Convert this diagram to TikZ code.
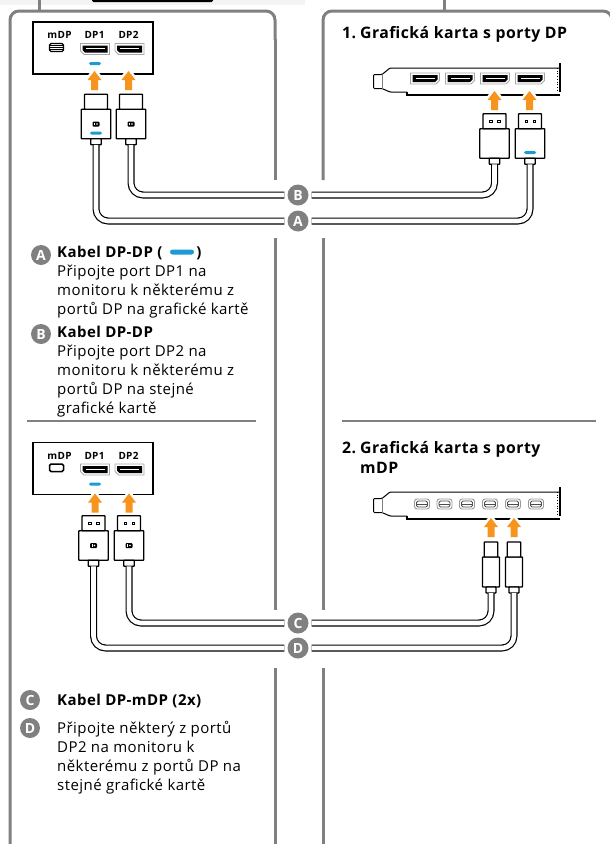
\documentclass[tikz,border=0pt]{standalone}
\usepackage{fontspec}
\setmainfont[LetterSpace=3]{Open Sans}
\usetikzlibrary{positioning}

\colorlet{panelGray}{black!50}
\definecolor{arrowOrange}{HTML}{F7941D}
\definecolor{dashBlue}{HTML}{1C9AD6}
\definecolor{stripGray}{HTML}{F4F4F4}

\tikzset{
  panel/.style={panelGray, line width=3pt, rounded corners=9pt},
  rulerline/.style={panelGray, line width=2pt},
  cable/.style={line width=1.2pt, double=white, double distance=4.6pt, rounded corners=12pt, shorten >=3pt},
  badge/.style={circle, fill=panelGray, text=white, font=\fontsize{14}{14}\selectfont\bfseries, minimum size=#1, inner sep=0pt},
  badge/.default=21pt,
  portname/.style={font=\fontsize{10}{12}\selectfont\bfseries},
  legend/.style={anchor=north west, inner sep=0pt, align=left, font=\fontsize{15}{19}\selectfont},
  heading/.style={anchor=north west, inner sep=0pt, align=left, font=\fontsize{15.8}{20}\selectfont\bfseries},
  bluedash/.style={fill=dashBlue, rounded corners=1.5pt, minimum width=12pt, minimum height=3pt, inner sep=0pt},
  uparrow/.style={fill=arrowOrange, preaction={draw=white, line width=5pt}},
  plugpart/.style={draw, line width=1.3pt, fill=white, rounded corners=0.6pt, inner sep=0pt, outer sep=0pt},
  pin/.style={draw, line width=0.5pt, minimum size=2.5pt, inner sep=0pt},
}

% arrow: x and y of the tip
\newcommand{\orangearrow}[2]{
  \path[uparrow] (#1,#2) -- ++(7,9) -- ++(-3.5,0) -- ++(0,10) -- ++(-7,0) -- ++(0,-10) -- ++(-3.5,0) -- cycle;
}
% plugs: name, centre x, centre y of the body
\newcommand{\dpplug}[3]{
  \node[plugpart, minimum width=29.5pt, minimum height=29.5pt] (#1) at (#2,#3) {};
  \node[plugpart, minimum width=23pt, minimum height=15pt, above=0pt of #1] (#1h) {};
  \node[plugpart, minimum width=10.5pt, minimum height=6pt, below=0pt of #1] (#1n) {};
}
\newcommand{\mdpplug}[3]{
  \node[plugpart, minimum width=17pt, minimum height=30pt] (#1) at (#2,#3) {};
  \node[plugpart, minimum width=13.5pt, minimum height=15pt, above=0pt of #1] (#1h) {};
  \node[plugpart, minimum width=10pt, minimum height=6pt, below=0pt of #1] (#1n) {};
}
\newcommand{\pins}[1]{
  \node[pin, xshift=-4pt] at (#1h) {};
  \node[pin, xshift=4pt] at (#1h) {};
}
\newcommand{\dplogo}[1]{
  \fill[rounded corners=1pt] ([shift={(-3.5pt,-2.5pt)}]#1) rectangle ++(7pt,5pt);
  \fill[white] ([shift={(-1.6pt,-1.2pt)}]#1) rectangle ++(1pt,2.4pt);
  \fill[white] ([shift={(1pt,0pt)}]#1) circle (0.9pt);
}
% DP socket: centre x, centre y, side of the cut corner
\newcommand{\dpport}[3]{
  \begin{scope}[shift={(#1,#2)}, xscale=#3]
    \draw[gray!70, line width=0.8pt, fill=white] (-14.5,-5.5) -- (14.5,-5.5) -- (14.5,5.5) -- (-11,5.5) -- (-14.5,2) -- cycle;
    \fill (-12.5,-3.5) -- (12.5,-3.5) -- (12.5,3.5) -- (-10,3.5) -- (-12.5,1) -- cycle;
    \fill[white] (-9.5,-1) rectangle (9.5,0);
  \end{scope}
}
\newcommand{\mdpport}[2]{
  \draw[gray!80, line width=0.9pt, fill=white, rounded corners=2.5pt] (#1-7.5,#2-5) rectangle (#1+7.5,#2+5);
  \draw[gray!60!black, line width=0.9pt, rounded corners=1.5pt] (#1-5.5,#2-3) rectangle (#1+5.5,#2+3);
  \draw[gray!60!black, line width=0.6pt] (#1-5.5,#2) -- (#1+5.5,#2);
}
% slot plate of a graphics card
\newcommand{\cardplate}[1]{
  \begin{scope}[shift={(0,#1)}]
    \draw[line width=1pt, rounded corners=1pt] (407,92) -- (390,92) -- (382,88.5) -- (373.5,88.5) -- (373.5,74.5) -- (382,74.5) -- (390,68) -- (560,68);
    \draw[gray, line width=0.8pt] (382,74.5) -- (382,88.5);
    \draw[line width=1.6pt] (407,92) -- (407,95) -- (560,95);
    \draw[line width=1.6pt] (560,63) -- (560,92);
    \draw[line width=0.7pt, dotted] (557,68) -- (557,92);
  \end{scope}
}

\begin{document}
\begin{tikzpicture}[x=1pt, y=-1pt]

  \clip (0,0) rectangle (610,844);

  % what is left of the part above
  \fill[stripGray] (0,0) rectangle (305,5);
  \fill[rounded corners=1.5pt] (92,-5) rectangle (213,2);

  % panels, open where the cables cross
  \draw[panelGray, line width=3pt] (39,0) -- (39,11);
  \draw[panelGray, line width=3pt] (444,0) -- (444,11);
  \draw[panel] (10,844) -- (10,11) -- (275,11) -- (275,40);
  \draw[panelGray, line width=3pt] (275,39) -- (275,180);
  \draw[panelGray, line width=3pt] (275,238) -- (275,610);
  \draw[panelGray, line width=3pt] (275,668) -- (275,844);
  \draw[panel] (323,180) -- (323,11) -- (612,11) -- (612,40);
  \draw[panelGray, line width=3pt] (323,238) -- (323,610);
  \draw[panelGray, line width=3pt] (323,668) -- (323,844);
  \draw[rulerline] (27,421) -- (256,421);
  \draw[rulerline] (342,421) -- (596,421);

  % monitors
  \foreach \y in {22,442.5}{
    \draw[line width=1.1pt] (33,\y) rectangle (153,\y+52);
    \node[portname] (mdp\y) at (59.5,\y+13) {mDP};
    \node[portname] (dpa\y) at (94.5,\y+13) {DP1};
    \node[portname] (dpb\y) at (128.5,\y+13) {DP2};
    \dpport{95}{\y+27}{1}
    \dpport{129.5}{\y+27}{1}
    \node[bluedash] (dash\y) at (95,\y+41.5) {};
  }
  \draw[line width=1.3pt, fill=white, rounded corners=1.5pt] (49.5,43.5) rectangle (63.5,51.5);
  \foreach \y in {45.5,47.5,49.5}
  \draw[line width=0.7pt] (49.5,\y) -- (63.5,\y);
  \draw[line width=1.5pt, fill=white, rounded corners=1.5pt] (49.5,464) rectangle (63.5,471.5);

  % cards
  \cardplate{0}
  \cardplate{424}
  \foreach \x in {425,460,495,530}{
    \dpport{\x}{78.5}{-1}
  }
  \foreach \x in {422,444.5,467,490,513,536}{
    \mdpport{\x}{504}
  }

  % arrows into the ports
  \foreach \x/\y in {94.5/71, 128.5/71, 95/493.5, 129/493.5, 494.5/91, 529.5/91, 491/518, 514/518}{
    \orangearrow{\x}{\y}
  }

  % plugs
  \dpplug{aLeft}{96}{124}
  \dpplug{bLeft}{131}{124}
  \dpplug{aRight}{530}{143.5}
  \dpplug{bRight}{494.5}{143.5}
  \dpplug{dLeft}{93.5}{545.5}
  \dpplug{cLeft}{129}{545.5}
  \mdpplug{cRight}{491}{572}
  \mdpplug{dRight}{514}{572}
  \pins{aRight}
  \pins{bRight}
  \pins{dLeft}
  \pins{cLeft}
  \dplogo{aLeft}
  \dplogo{bLeft}
  \dplogo{dLeft}
  \dplogo{cLeft}
  \node[bluedash] (dashPlugA) at (96,133) {};
  \node[bluedash] (dashPlugB) at (530,152.5) {};

  % cables and their letters
  \node[badge] (bB) at (298,195) {B};
  \node[badge] (bA) at (298,221) {A};
  \node[badge] (bC) at (298,623) {C};
  \node[badge] (bD) at (298,648) {D};
  \draw[cable] (aLeftn.south) |- (bA.west);
  \draw[cable] (aRightn.south) |- (bA.east);
  \draw[cable] (bLeftn.south) |- (bB.west);
  \draw[cable] (bRightn.south) |- (bB.east);
  \draw[cable] (cLeftn.south) |- (bC.west);
  \draw[cable] (cRightn.south) |- (bC.east);
  \draw[cable] (dLeftn.south) |- (bD.west);
  \draw[cable] (dRightn.south) |- (bD.east);

  % headings
  \node[heading] (headOne) at (342,26.5) {\makebox[18pt][l]{1.}Grafická karta s porty DP};
  \node[heading] (headTwo) at (342,441) {\makebox[18pt][l]{2.}Grafická karta s porty\\\hspace*{18pt}mDP};

  % legend
  \node[badge=20pt] (legA) at (41,255) {A};
  \node[legend] (textA) at (57,246) {\textbf{Kabel DP-DP (\hspace{34pt})}\\Připojte port DP1 na\\monitoru k některému z\\portů DP na grafické kartě};
  \node[bluedash, minimum width=24pt, minimum height=5pt, rounded corners=2.5pt] (pillA) at (182,252) {};
  \node[badge=20pt] (legB) at (41,334) {B};
  \node[legend] (textB) at (57,326) {\textbf{Kabel DP-DP}\\Připojte port DP2 na\\monitoru k některému z\\portů DP na stejné\\grafické kartě};
  \node[badge=20pt] (legC) at (30,700) {C};
  \node[legend] (textC) at (57,694) {\textbf{Kabel DP-mDP (2x)}};
  \node[badge=20pt] (legD) at (30,728) {D};
  \node[legend] (textD) at (57,721) {Připojte některý z portů\\DP2 na monitoru k\\některému z portů DP na\\stejné grafické kartě};

\end{tikzpicture}
\end{document}
